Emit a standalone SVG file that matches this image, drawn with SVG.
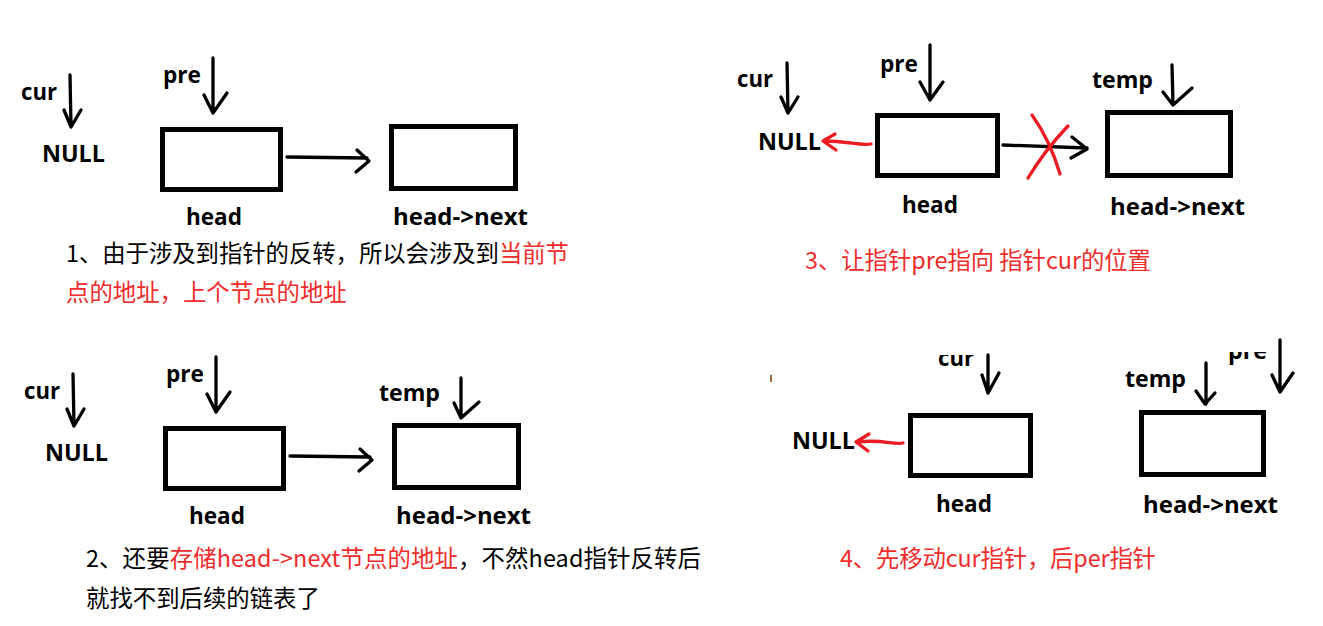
<svg xmlns="http://www.w3.org/2000/svg" width="1323" height="626" viewBox="0 0 1323 626">
<style>
.box{fill:#fff;stroke:#000;stroke-width:5}
.ln{fill:none;stroke:#000;stroke-width:3.3;stroke-linecap:round;stroke-linejoin:round}
.rd{fill:none;stroke:#ed1c24;stroke-width:3.3;stroke-linecap:round;stroke-linejoin:round}
.lb{font-family:"Open Sans","Noto Sans CJK SC",sans-serif;font-weight:700;font-size:23px;fill:#000}
.tx{font-family:"Noto Sans CJK SC",sans-serif;font-size:23.4px;fill:#000}
.r{fill:#f02c2c}
</style>
<defs>
<clipPath id="clipCur"><rect x="900" y="355" width="200" height="60"/></clipPath>
<clipPath id="clipPre"><rect x="1200" y="352" width="100" height="40"/></clipPath>
</defs>
<rect width="1323" height="626" fill="#fff"/>

<!-- Panel 1 -->
<g id="p1-cur"><text class="lb" x="21" y="100" textLength="36" lengthAdjust="spacingAndGlyphs">cur</text></g>
<g id="p1-null"><text class="lb" x="42" y="162" textLength="63" lengthAdjust="spacingAndGlyphs">NULL</text></g>
<g id="p1-pre"><text class="lb" x="163" y="83" textLength="38" lengthAdjust="spacingAndGlyphs">pre</text></g>
<g id="p1-head"><rect class="box" x="162.5" y="129.5" width="118" height="60"/><text class="lb" x="186" y="225" textLength="56" lengthAdjust="spacingAndGlyphs">head</text></g>
<g id="p1-next"><rect class="box" x="391.5" y="126.5" width="124" height="62"/><text class="lb" x="393" y="225" textLength="135" lengthAdjust="spacingAndGlyphs">head-&gt;next</text></g>
<g id="p1-note">
<text class="tx" x="66" y="262" textLength="503" lengthAdjust="spacing">1、由于涉及到指针的反转，所以会涉及到<tspan class="r">当前节</tspan></text>
<text class="tx r" x="66" y="301">点的地址，上个节点的地址</text>
</g>

<!-- Panel 2 -->
<g id="p2-cur"><text class="lb" x="24" y="399" textLength="36" lengthAdjust="spacingAndGlyphs">cur</text></g>
<g id="p2-null"><text class="lb" x="45" y="461" textLength="63" lengthAdjust="spacingAndGlyphs">NULL</text></g>
<g id="p2-pre"><text class="lb" x="166" y="382" textLength="38" lengthAdjust="spacingAndGlyphs">pre</text></g>
<g id="p2-temp"><text class="lb" x="379" y="401" textLength="61" lengthAdjust="spacingAndGlyphs">temp</text></g>
<g id="p2-head"><rect class="box" x="165.5" y="428.5" width="118" height="60"/><text class="lb" x="189" y="524" textLength="56" lengthAdjust="spacingAndGlyphs">head</text></g>
<g id="p2-next"><rect class="box" x="394.5" y="425.5" width="124" height="62"/><text class="lb" x="396" y="524" textLength="135" lengthAdjust="spacingAndGlyphs">head-&gt;next</text></g>
<g id="p2-note">
<text class="tx" x="86" y="567" textLength="615" lengthAdjust="spacing">2、还要<tspan class="r">存储head-&gt;next节点的地址</tspan>，不然head指针反转后</text>
<text class="tx" x="86" y="607">就找不到后续的链表了</text>
</g>

<!-- Panel 3 -->
<g id="p3-cur"><text class="lb" x="737" y="87" textLength="36" lengthAdjust="spacingAndGlyphs">cur</text></g>
<g id="p3-null"><text class="lb" x="758" y="150" textLength="63" lengthAdjust="spacingAndGlyphs">NULL</text></g>
<g id="p3-pre"><text class="lb" x="880" y="72" textLength="38" lengthAdjust="spacingAndGlyphs">pre</text></g>
<g id="p3-temp"><text class="lb" x="1092" y="88" textLength="61" lengthAdjust="spacingAndGlyphs">temp</text></g>
<g id="p3-head"><rect class="box" x="877.5" y="115.5" width="120" height="60"/><text class="lb" x="902" y="213" textLength="56" lengthAdjust="spacingAndGlyphs">head</text></g>
<g id="p3-next"><rect class="box" x="1107.5" y="112.5" width="123" height="63"/><text class="lb" x="1110" y="215" textLength="135" lengthAdjust="spacingAndGlyphs">head-&gt;next</text></g>
<g id="p3-note"><text class="tx r" x="805" y="269" textLength="346" lengthAdjust="spacing">3、让指针pre指向 指针cur的位置</text></g>

<!-- Panel 4 -->
<g id="p4-cur" clip-path="url(#clipCur)"><text class="lb" x="938" y="366" textLength="36" lengthAdjust="spacingAndGlyphs">cur</text></g>
<g id="p4-null"><text class="lb" x="792" y="449" textLength="63" lengthAdjust="spacingAndGlyphs">NULL</text></g>
<g id="p4-temp"><text class="lb" x="1125" y="387" textLength="61" lengthAdjust="spacingAndGlyphs">temp</text></g>
<g id="p4-pre" clip-path="url(#clipPre)"><text class="lb" x="1228" y="359" textLength="39" lengthAdjust="spacingAndGlyphs">pre</text></g>
<g id="p4-head"><rect class="box" x="910.5" y="415.5" width="120" height="60"/><text class="lb" x="936" y="512" textLength="56" lengthAdjust="spacingAndGlyphs">head</text></g>
<g id="p4-next"><rect class="box" x="1141.5" y="412.5" width="122" height="62"/><text class="lb" x="1143" y="513" textLength="135" lengthAdjust="spacingAndGlyphs">head-&gt;next</text></g>
<g id="p4-note"><text class="tx r" x="840" y="567" textLength="316" lengthAdjust="spacing">4、先移动cur指针，后per指针</text></g>
<path d="M771,375 L771,382" stroke="#7a3b00" stroke-width="1.5" fill="none"/>

<g id="connectors">
<!-- panel 1 -->
<path class="ln" d="M70,75 L71,127 M64,110 L71,127 L81,110"/>
<path class="ln" d="M213,58 L213,113 M204,95 L213,113 L227,93"/>
<path class="ln" d="M287,157 L367,158 M357,150 L369,161 L356,172"/>
<!-- panel 2 -->
<path class="ln" d="M73,374 L74,426 M67,409 L74,426 L84,409"/>
<path class="ln" d="M216,357 L216,412 M207,394 L216,412 L230,392"/>
<path class="ln" d="M461,378 L461,418 M454,403 L461,418 L479,402"/>
<path class="ln" d="M290,456 L370,457 M360,449 L372,460 L359,471"/>
<!-- panel 3 -->
<path class="ln" d="M787,63 L788,113 M781,97 L788,113 L798,97"/>
<path class="ln" d="M930,45 L930,100 M920,82 L930,100 L943,82"/>
<path class="ln" d="M1172,65 L1173,105 M1163,92 L1173,105 L1192,88"/>
<path class="ln" d="M1003,145 L1087,148 M1072,137 L1087,149 L1071,158"/>
<path class="rd" d="M871,144 C860,146 848,141 824,141 M835,134 L823,141 L836,150"/>
<path class="rd" d="M1032,115 Q1050,140 1060,174 M1068,126 Q1045,150 1028,178"/>
<!-- panel 4 -->
<path class="ln" d="M988,355 L988,393 M982,375 L988,393 L999,373"/>
<path class="ln" d="M1206,363 L1206,404 M1196,391 L1205,404 L1215,393"/>
<path class="ln" d="M1280,340 L1280,392 M1272,375 L1280,392 L1293,373"/>
<path class="rd" d="M903,443 C893,445 883,439 857,442 M869,434 L856,442 L868,451"/>
</g>
</svg>
